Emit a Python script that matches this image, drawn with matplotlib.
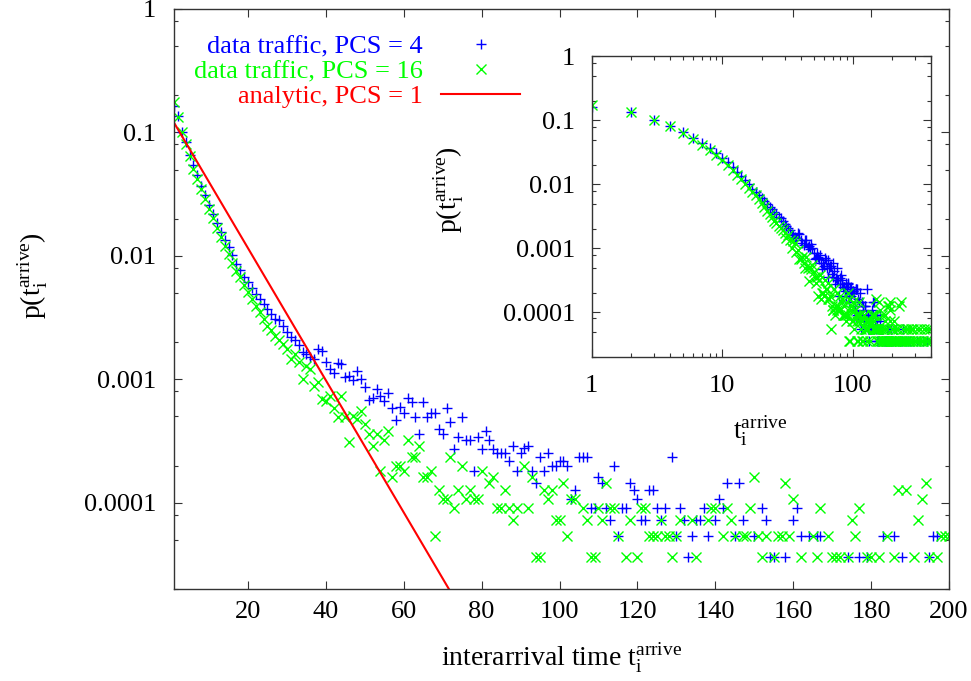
import numpy as np
import matplotlib
matplotlib.use("Agg")
import matplotlib.pyplot as plt
from matplotlib.ticker import FixedLocator, NullFormatter, NullLocator

plt.rcParams["font.family"] = ["Liberation Serif", "DejaVu Serif"]
plt.rcParams["mathtext.fontset"] = "custom"
plt.rcParams["mathtext.rm"] = "Liberation Serif"
plt.rcParams["mathtext.it"] = "Liberation Serif:italic"


# -----------------------------
# DATA
# -----------------------------

# data traffic, PCS = 4
t_pcs4 = [
    1, 2, 3, 4, 5, 6, 7, 8, 9, 10, 11, 12, 13, 14, 15, 16, 17, 18, 19, 20,
    21, 22, 23, 24, 25, 26, 27, 28, 29, 30, 31, 32, 33, 34, 35, 36, 37, 38, 39, 40,
    41, 42, 43, 44, 45, 46, 47, 48, 49, 50, 51, 52, 53, 54, 55, 56, 57, 58, 59, 60,
    61, 62, 63, 64, 65, 66, 67, 68, 69, 70, 71, 72, 73, 74, 75, 76, 77, 78, 79, 80,
    81, 82, 83, 84, 85, 86, 87, 88, 89, 90, 91, 92, 93, 94, 95, 96, 97, 98, 99, 100,
    101, 102, 103, 104, 105, 106, 107, 108, 109, 110, 111, 112, 113, 114, 115, 116,
    117, 118, 119, 120, 121, 122, 123, 124, 125, 126, 127, 129, 130, 131, 132, 133,
    134, 135, 136, 137, 138, 140, 141, 142, 143, 145, 146, 147, 150, 152, 153, 154,
    155, 158, 160, 161, 162, 164, 166, 167, 174, 177, 179, 183, 186, 188, 195, 196,
    197, 204, 209, 215, 221, 228, 236, 244, 253, 263, 276, 291, 308, 327, 347, 367,
]
p_pcs4 = [
    0.165, 0.135, 0.101, 0.083, 0.066, 0.054, 0.045, 0.037, 0.031, 0.026,
    0.022, 0.0185, 0.0157, 0.0135, 0.0117, 0.0101, 0.0086, 0.0077, 0.0068, 0.0061,
    0.0055, 0.0049, 0.0045, 0.0041, 0.0037, 0.0034, 0.0031, 0.0030, 0.0027, 0.0024,
    0.0022, 0.0021, 0.0019, 0.00165, 0.0016, 0.00151, 0.00145, 0.00176, 0.00168, 0.00137,
    0.00122, 0.00112, 0.00135, 0.00133, 0.00104, 0.00107, 0.00098, 0.00117, 0.00101, 0.00086,
    0.00068, 0.00071, 0.00083, 0.00073, 0.00067, 0.00078, 0.000585, 0.000468, 0.0006, 0.000538,
    0.000704, 0.00065, 0.000491, 0.00036, 0.00066, 0.000497, 0.000538, 0.000538, 0.000395, 0.00036,
    0.000585, 0.000448, 0.000272, 0.000338, 0.000497, 0.000322, 0.000322, 0.00018, 0.000338, 0.000272,
    0.000383, 0.000322, 0.000272, 0.000252, 0.000252, 0.000252, 0.000216, 0.000288, 0.00018, 0.000252,
    0.00028, 0.000288, 0.00018, 0.000144, 0.000234, 0.00018, 0.000252, 0.000198, 0.000198, 0.000216,
    0.000216, 0.000198, 0.000108, 0.000126, 0.000234, 0.000234, 0.000234, 9e-5, 9e-5, 0.000162,
    0.000144, 9e-5, 7.2e-5, 0.000198, 5.4e-5, 9e-5,
    9e-5, 0.000144, 0.000126, 0.000108, 7.2e-5, 7.2e-5, 0.000126, 0.000126, 9e-5, 7.2e-5,
    9e-5, 0.000234, 5.4e-5, 9e-5, 7.2e-5, 3.6e-5,
    5.4e-5, 7.2e-5, 7.2e-5, 9e-5, 5.4e-5, 7.2e-5, 0.000108, 9e-5, 0.000144, 5.4e-5,
    0.000144, 7.2e-5, 5.4e-5, 9e-5, 7.2e-5, 3.6e-5,
    3.6e-5, 3.6e-5, 7.2e-5, 9e-5, 5.4e-5, 5.4e-5, 5.4e-5, 5.4e-5, 3.6e-5, 3.6e-5,
    3.6e-5, 5.4e-5, 5.4e-5, 3.6e-5, 3.6e-5, 5.4e-5,
    5.4e-5, 3.6e-5, 3.6e-5, 5.4e-5, 3.6e-5, 3.6e-5, 3.6e-5, 5.4e-5, 3.6e-5, 3.6e-5,
    3.6e-5, 3.6e-5, 3.6e-5, 3.6e-5, 3.6e-5, 3.6e-5,
]

# data traffic, PCS = 16
t_pcs16 = [
    1, 2, 3, 4, 5, 6, 7, 8, 9, 10, 11, 12, 13, 14, 15, 16, 17, 18, 19, 20,
    21, 22, 23, 24, 25, 26, 27, 28, 29, 30, 31, 32, 33, 34, 35, 36, 37, 38, 39, 40,
    41, 42, 43, 44, 45, 46, 47, 48, 49, 50, 51, 52, 53, 54, 55, 56, 57, 58, 59, 60,
    61, 62, 63, 64, 65, 66, 67, 68, 69, 70, 71, 72, 73, 74, 75, 76, 77, 78, 79, 80,
    82, 83, 84, 85, 86, 87, 88, 89, 91, 92, 93, 94, 95, 96, 97, 98, 99, 100,
    101, 102, 103, 104, 106, 107, 108, 109, 110, 111, 112, 113, 114, 115, 117, 118,
    120, 121, 122, 123, 124, 125, 126, 127, 128, 129, 130, 131, 134, 135, 138, 139,
    140, 142, 143, 144, 145, 147, 148, 149, 150, 151, 152, 153, 155, 156, 157, 158,
    159, 160, 162, 165, 166, 167, 169, 170, 171, 172, 174, 175, 176, 177, 179, 180,
    182, 184, 186, 187, 189, 191, 192, 193, 194, 195, 197, 198, 199, 200,
    202, 204, 206, 208, 210, 213, 215, 218, 221, 224, 226, 230, 232, 237, 241, 245,
    249, 253, 258, 263, 268, 273, 279, 285, 291, 297, 304, 311, 318, 326, 334, 342,
    351, 360, 369, 379, 389, 398,
]
p_pcs16 = [
    0.176, 0.133, 0.100, 0.081, 0.064, 0.051, 0.042, 0.035, 0.029, 0.024,
    0.0203, 0.0167, 0.0141, 0.0120, 0.0103, 0.0088, 0.0076, 0.0067, 0.0058, 0.0051,
    0.0045, 0.0039, 0.0035, 0.0031, 0.0027, 0.0025, 0.00226, 0.0021, 0.00193, 0.00176,
    0.00146, 0.0016, 0.00137, 0.001, 0.00129, 0.00121, 0.000887, 0.000944, 0.00069, 0.00067,
    0.000736, 0.00058, 0.000491, 0.00073, 0.000491, 0.000308, 0.000506, 0.000475, 0.000556, 0.000433,
    0.00036, 0.000288, 0.00036, 0.00018, 0.000324, 0.000378, 0.000162, 0.000198, 0.000198, 0.00018,
    0.000324, 0.000234, 0.000234, 0.000288, 0.000162, 0.000162, 0.00018, 5.4e-5, 0.000126, 0.000108,
    0.000108, 0.000234, 9e-5, 0.000126, 0.000198, 0.000108, 0.000126, 0.000108, 0.000108, 0.00018,
    0.000144, 0.000162, 9e-5, 9e-5, 0.000126, 9e-5, 7.2e-5, 9e-5, 0.000198, 9e-5,
    0.000162, 3.6e-5, 3.6e-5, 0.000126, 0.000108, 0.000126, 7.2e-5, 7.2e-5,
    0.000144, 5.4e-5, 0.000108, 0.000108, 9e-5, 7.2e-5, 3.6e-5, 3.6e-5, 9e-5, 7.2e-5,
    0.000144, 9e-5, 9e-5, 5.4e-5, 3.6e-5, 7.2e-5,
    3.6e-5, 9e-5, 9e-5, 5.4e-5, 5.4e-5, 5.4e-5, 7.2e-5, 5.4e-5, 5.4e-5, 3.6e-5,
    5.4e-5, 7.2e-5, 7.2e-5, 3.6e-5, 7.2e-5, 9e-5,
    9e-5, 5.4e-5, 9e-5, 7.2e-5, 5.4e-5, 5.4e-5, 5.4e-5, 9e-5, 0.000162, 5.4e-5,
    3.6e-5, 5.4e-5, 3.6e-5, 5.4e-5, 5.4e-5, 0.000144,
    5.4e-5, 0.000108, 3.6e-5, 5.4e-5, 3.6e-5, 9e-5, 5.4e-5, 3.6e-5, 3.6e-5, 3.6e-5,
    3.6e-5, 7.2e-5, 5.4e-5, 9e-5, 3.6e-5, 3.6e-5,
    3.6e-5, 5.4e-5, 3.6e-5, 0.000126, 0.000126, 3.6e-5, 7.2e-5, 0.000108, 0.000144, 3.6e-5,
    3.6e-5, 5.4e-5, 5.4e-5, 5.4e-5,
    3.6e-5, 5.4e-5, 3.6e-5, 7.2e-5, 3.6e-5, 5.4e-5, 3.6e-5, 3.6e-5, 5.4e-5, 3.6e-5,
    0.000126, 3.6e-5, 0.000144, 3.6e-5, 5.4e-5, 3.6e-5,
    3.6e-5, 5.4e-5, 3.6e-5, 5.4e-5, 3.6e-5, 3.6e-5, 5.4e-5, 3.6e-5, 5.4e-5, 3.6e-5,
    3.6e-5, 5.4e-5, 3.6e-5, 5.4e-5, 3.6e-5, 3.6e-5,
    5.4e-5, 3.6e-5, 5.4e-5, 3.6e-5, 5.4e-5, 3.6e-5,
]

# analytic, PCS = 1 (straight line on the semi-log axes)
analytic_t = [1, 72]
analytic_p = [0.12, 1.9e-5]

main_xticks = [20, 40, 60, 80, 100, 120, 140, 160, 180, 200]
y_ticks = [1e-4, 1e-3, 1e-2, 1e-1, 1]
y_ticklabels = ["0.0001", "0.001", "0.01", "0.1", "1"]
y_minor = [m * 10.0 ** k for k in range(-5, 0) for m in (2, 5, 8)]
inset_xticks = [1, 10, 100]
inset_xminor = [m * 10.0 ** k for k in range(0, 3) for m in range(2, 10) if m * 10 ** k <= 400]

BLUE = "#0000ff"
GREEN = "#00ff00"
RED = "#ff0000"
AXC = "#333333"
FS = 19


# -----------------------------
# PLOT
# -----------------------------

def style_axes(a):
    for s in a.spines.values():
        s.set_color(AXC)
        s.set_linewidth(1.0)
    a.tick_params(which="both", direction="in", top=True, right=True,
                  color=AXC, labelcolor="black", labelsize=FS, width=0.8)
    a.tick_params(which="major", length=6)
    a.tick_params(which="minor", length=3)


def draw_data(a):
    a.plot(t_pcs4, p_pcs4, ls="none", marker="+", ms=7, mew=1.0, color=BLUE,
           label="data traffic, PCS = 4")
    a.plot(t_pcs16, p_pcs16, ls="none", marker="x", ms=6.5, mew=1.0, color=GREEN,
           label="data traffic, PCS = 16")


fig = plt.figure(figsize=(9.71, 6.81), dpi=100)
ax = fig.add_axes([0.1792, 0.1351, 0.7981, 0.8517])

draw_data(ax)
ax.plot(analytic_t, analytic_p, color=RED, lw=1.5, label="analytic, PCS = 1")

ax.set_yscale("log")
ax.set_xlim(1, 200)
ax.set_ylim(2e-5, 1)
ax.xaxis.set_major_locator(FixedLocator(main_xticks))
ax.set_xticklabels([str(v) for v in main_xticks])
ax.xaxis.set_minor_locator(NullLocator())
ax.yaxis.set_major_locator(FixedLocator(y_ticks))
ax.set_yticklabels(y_ticklabels)
ax.yaxis.set_minor_locator(FixedLocator(y_minor))
ax.yaxis.set_minor_formatter(NullFormatter())
style_axes(ax)
ax.tick_params(axis="y", pad=13)
ax.tick_params(axis="x", pad=9)

ax.set_xlabel(r"interarrival time $\mathrm{t}_{\mathrm{i}}^{\mathrm{arrive}}$", fontsize=FS + 1)
ax.set_ylabel(r"p($\mathrm{t}_{\mathrm{i}}^{\mathrm{arrive}}$)", fontsize=FS + 1)
ax.xaxis.set_label_coords(0.5, -0.09)
ax.yaxis.set_label_coords(-0.16, 0.54)

ax.legend(loc="upper right", bbox_to_anchor=(0.447, 0.955), markerfirst=False,
          frameon=False, fontsize=19, labelcolor="linecolor", handlelength=3,
          handletextpad=0.7, labelspacing=0.05, borderpad=0, borderaxespad=0,
          numpoints=1)

# inset, log-log
ins = fig.add_axes([0.6094, 0.4758, 0.3499, 0.4413])
draw_data(ins)
ins.set_xscale("log")
ins.set_yscale("log")
ins.set_xlim(1, 400)
ins.set_ylim(2e-5, 1)
ins.xaxis.set_major_locator(FixedLocator(inset_xticks))
ins.set_xticklabels([str(v) for v in inset_xticks])
ins.xaxis.set_minor_locator(FixedLocator(inset_xminor))
ins.xaxis.set_minor_formatter(NullFormatter())
ins.yaxis.set_major_locator(FixedLocator(y_ticks))
ins.set_yticklabels(y_ticklabels)
ins.yaxis.set_minor_locator(FixedLocator(y_minor))
ins.yaxis.set_minor_formatter(NullFormatter())
style_axes(ins)
ins.tick_params(axis="y", pad=12)
ins.tick_params(axis="x", pad=13)

ins.set_xlabel(r"$\mathrm{t}_{\mathrm{i}}^{\mathrm{arrive}}$", fontsize=FS + 1)
ins.set_ylabel(r"p($\mathrm{t}_{\mathrm{i}}^{\mathrm{arrive}}$)", fontsize=FS + 1)
ins.xaxis.set_label_coords(0.495, -0.19)
ins.yaxis.set_label_coords(-0.37, 0.556)

fig.savefig("out.png", dpi=100)
